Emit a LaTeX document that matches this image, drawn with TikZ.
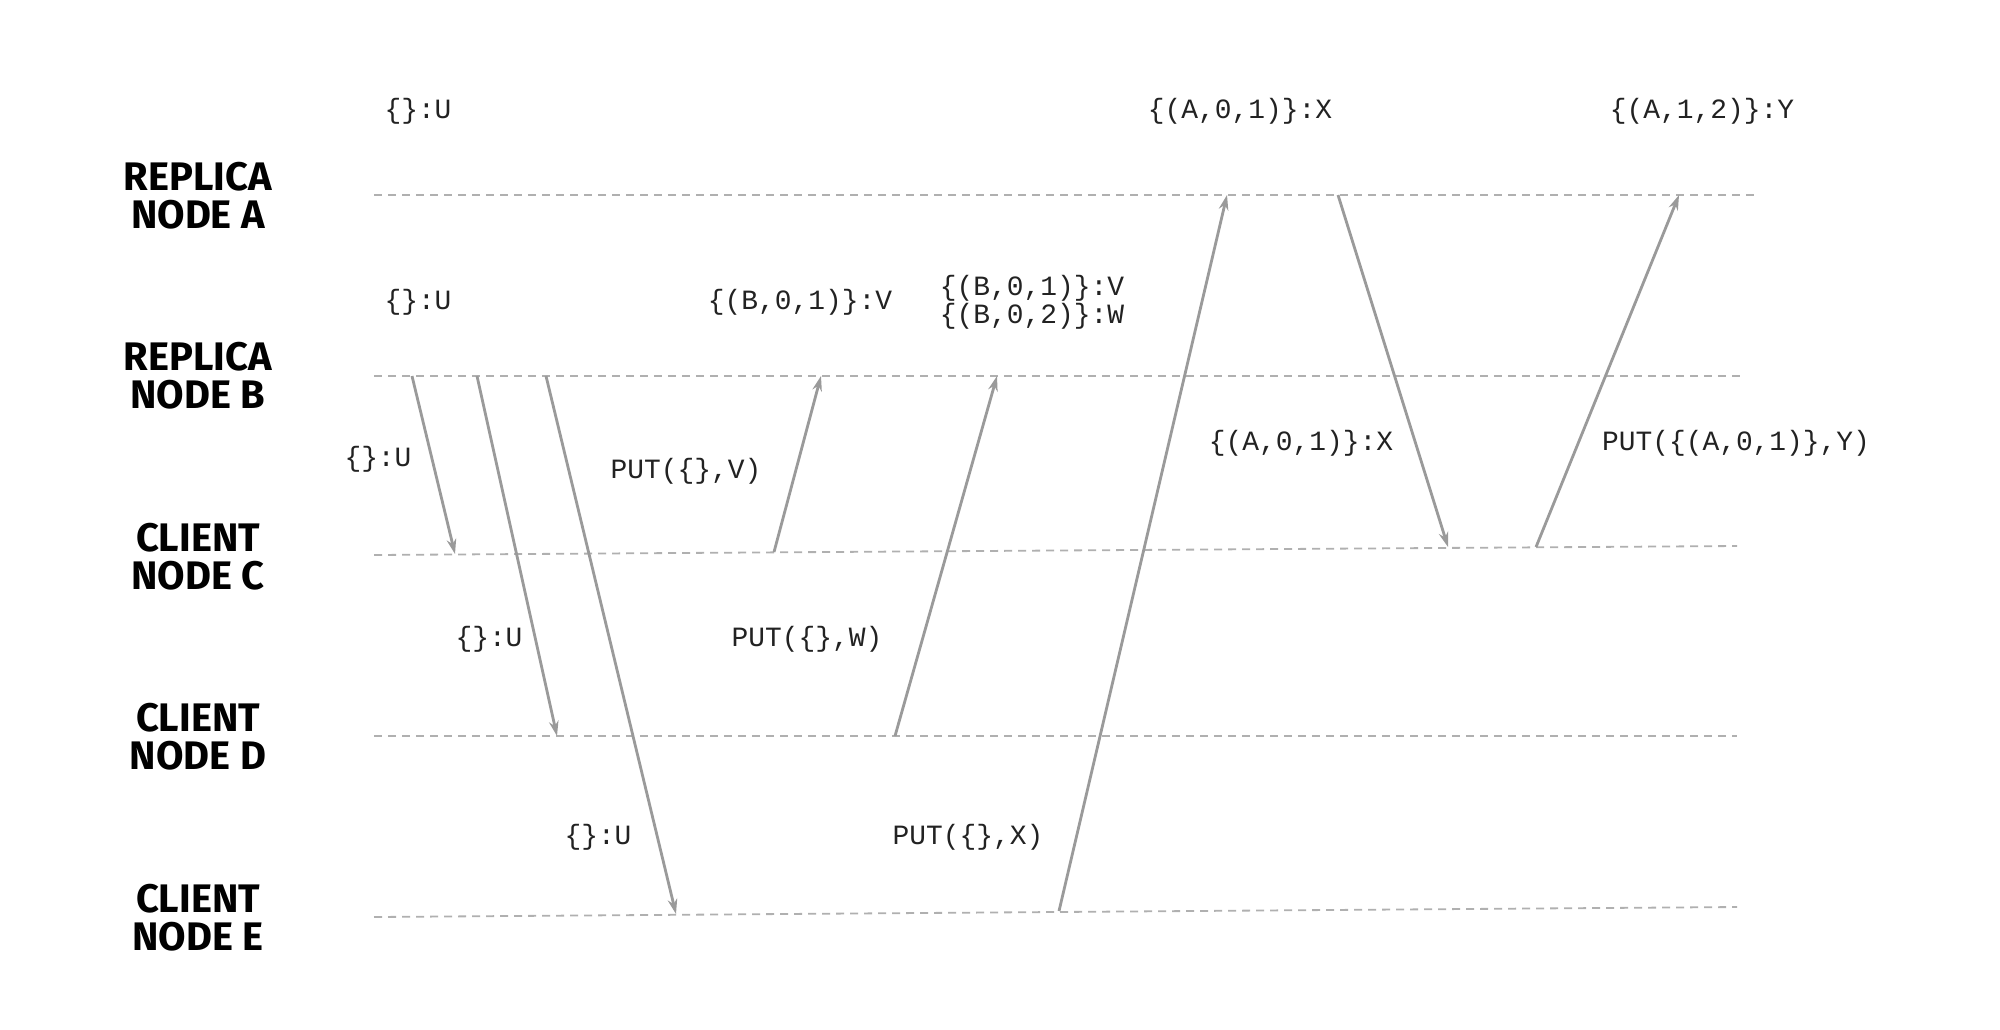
\documentclass[tikz,border=0pt]{standalone}
\usepackage{fontspec}
\setmonofont{Liberation Mono}
\newfontfamily\labfont{Fira Sans}
\usetikzlibrary{arrows.meta}
\definecolor{lanegray}{HTML}{B0B0B0}
\definecolor{arrowgray}{HTML}{9A9A9A}
\definecolor{textcol}{HTML}{222222}
\begin{document}
\begin{tikzpicture}[x=0.5bp,y=-0.5bp,
  lane/.style={draw=lanegray, dash pattern=on 4bp off 3bp, line width=0.9bp},
  msg/.style={draw=arrowgray, line width=1.4bp, -{Stealth[length=7.5bp,width=4.8bp,fill=arrowgray]}},
  txt/.style={font=\ttfamily\fontsize{14}{14}\selectfont, text=textcol, inner sep=0pt, align=center},
  actor/.style={font=\labfont\bfseries\fontsize{20}{19}\selectfont, align=center, inner sep=0pt}]
\path[use as bounding box, fill=white] (0,0) rectangle (2000,1029);

% actor labels
\node[actor] (labA) at (198,196) {REPLICA\\NODE A};
\node[actor] (labB) at (198,376) {REPLICA\\NODE B};
\node[actor] (labC) at (198,557) {CLIENT\\NODE C};
\node[actor] (labD) at (198,737) {CLIENT\\NODE D};
\node[actor] (labE) at (198,918) {CLIENT\\NODE E};

% lane ends
\coordinate (A0) at (374,195);  \coordinate (A1) at (1758,195);
\coordinate (B0) at (374,376);  \coordinate (B1) at (1741,376);
\coordinate (C0) at (374,555);  \coordinate (C1) at (1737,546);
\coordinate (D0) at (374,736);  \coordinate (D1) at (1737,736);
\coordinate (E0) at (374,917);  \coordinate (E1) at (1737,907);
\draw[lane] (A0) -- (A1);
\draw[lane] (B0) -- (B1);
\draw[lane] (C0) -- (C1);
\draw[lane] (D0) -- (D1);
\draw[lane] (E0) -- (E1);

% message end points
\coordinate (m1s) at (412,376);  \coordinate (m1e) at (455,554);
\coordinate (m2s) at (477,376);  \coordinate (m2e) at (557,736);
\coordinate (m3s) at (546,376);  \coordinate (m3e) at (676,914);
\coordinate (m4s) at (774,552);  \coordinate (m4e) at (821,376);
\coordinate (m5s) at (895,736);  \coordinate (m5e) at (997,376);
\coordinate (m6s) at (1059,911); \coordinate (m6e) at (1227,195);
\coordinate (m7s) at (1338,195); \coordinate (m7e) at (1448,547);
\coordinate (m8s) at (1536,547); \coordinate (m8e) at (1679,195);

\draw[msg] (m1s) -- (m1e);
\draw[msg] (m2s) -- (m2e);
\draw[msg] (m3s) -- (m3e);
\draw[msg] (m4s) -- (m4e);
\draw[msg] (m5s) -- (m5e);
\draw[msg] (m6s) -- (m6e);
\draw[msg] (m7s) -- (m7e);
\draw[msg] (m8s) -- (m8e);

% state labels
\node[txt] (sA0) at (418,111) {\{\}:U};
\node[txt] (sB0) at (418,302) {\{\}:U};
\node[txt] (sB1) at (800,302) {\{(B,0,1)\}:V};
\node[txt] (sB2) at (1032,302) {\{(B,0,1)\}:V\\\{(B,0,2)\}:W};
\node[txt] (sA1) at (1240,111) {\{(A,0,1)\}:X};
\node[txt] (sA2) at (1702,111) {\{(A,1,2)\}:Y};

% message labels
\node[txt] (l1) at (378,459) {\{\}:U};
\node[txt] (l2) at (489,639) {\{\}:U};
\node[txt] (l3) at (598,837) {\{\}:U};
\node[txt] (l4) at (686,471) {PUT(\{\},V)};
\node[txt] (l5) at (807,639) {PUT(\{\},W)};
\node[txt] (l6) at (968,837) {PUT(\{\},X)};
\node[txt] (l7) at (1301,443) {\{(A,0,1)\}:X};
\node[txt] (l8) at (1736,443) {PUT(\{(A,0,1)\},Y)};
\end{tikzpicture}
\end{document}
